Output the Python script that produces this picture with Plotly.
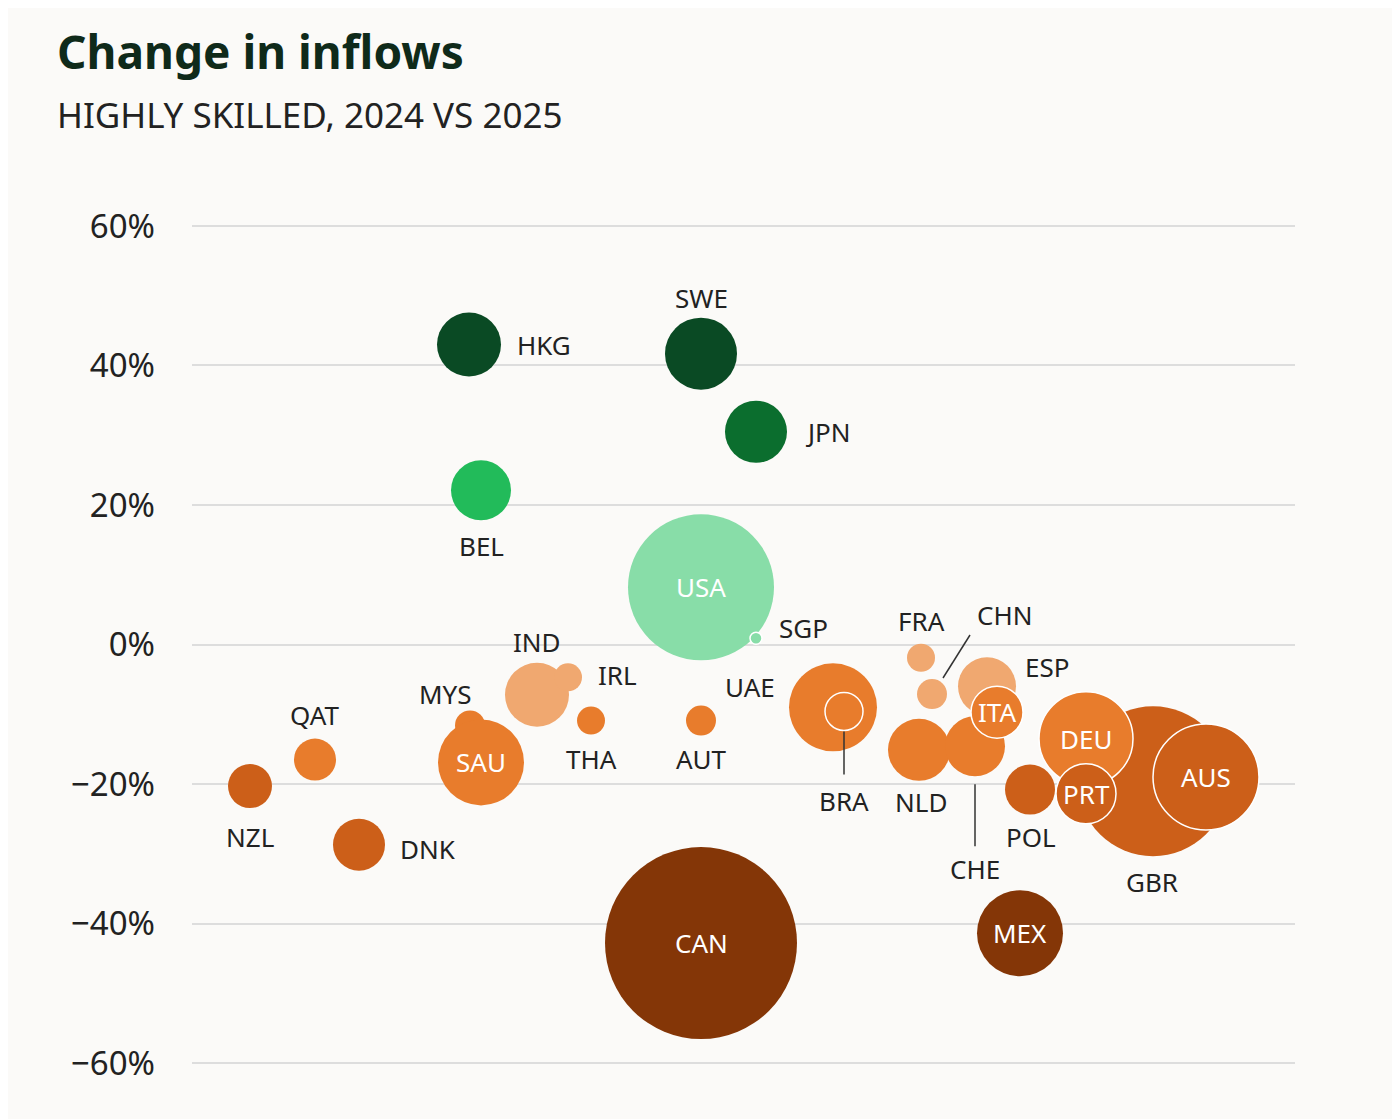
import plotly.graph_objects as go

countries = ["HKG","SWE","JPN","BEL","USA","SGP","IND","IRL","MYS","THA","AUT","QAT","NZL","DNK","SAU","CAN",
             "UAE","BRA","FRA","CHN","ESP","NLD","CHE","ITA","GBR","DEU","POL","PRT","AUS","MEX"]
# horizontal placement (arbitrary swarm position)
xpos = [277,509,564,289,509,564,345,376,278,399,509,123,58,167,289,509,
        641,652,729,740,795,727,783,805,961,894,838,894,1014,828]
change = [43.0,41.7,30.5,22.1,8.2,0.9,-7.2,-4.7,-11.6,-10.9,-10.9,-16.5,-20.3,-28.7,-16.9,-42.8,
          -9.0,-9.6,-1.9,-7.1,-6.0,-15.1,-14.6,-9.7,-19.6,-13.5,-20.8,-21.4,-19.0,-41.4]
bubble = [64,72,62,60,146,12,64,28,30,28,30,42,44,52,86,192,
          88,38,28,30,58,62,60,52,150,94,50,60,106,86]
colors = ["#0a4a24","#0a4a24","#0b6e2e","#22bb5a","#88dda8","#88dda8","#f0a870","#f0a870","#e87c2c","#e87c2c","#e87c2c",
          "#e87c2c","#cc5f19","#cc5f19","#e87c2c","#843607",
          "#e87c2c","#e87c2c","#f0a870","#f0a870","#f0a870","#e87c2c","#e87c2c","#e87c2c","#cc5f19","#e87c2c",
          "#cc5f19","#cc5f19","#cc5f19","#843607"]
outlined = {"BRA","ITA","DEU","PRT","AUS","SGP"}
inside = {"USA","SAU","CAN","ITA","DEU","PRT","AUS","MEX"}
# label offsets in px (dx, dy downwards)
offsets = {"HKG":(75,0),"SWE":(0,-56),"JPN":(72,0),"BEL":(0,56),"SGP":(47,-10),"IND":(0,-53),
           "IRL":(49,-2),"MYS":(-25,-31),"THA":(0,38),"AUT":(0,38),"UAE":(-83,-20),"QAT":(0,-45),
           "NZL":(0,51),"DNK":(69,4),"BRA":(0,90),"FRA":(0,-37),"CHN":(72,-79),"ESP":(60,-19),
           "NLD":(2,52),"CHE":(0,123),"POL":(1,47),"GBR":(-1,101)}

fig = go.Figure(go.Scatter(
    x=xpos, y=change, mode="markers", hoverinfo="skip",
    marker=dict(size=bubble, sizemode="diameter", color=colors, opacity=1,
                line=dict(color=["white" if c in outlined else "rgba(0,0,0,0)" for c in countries],
                          width=[1.5 if c in outlined else 0 for c in countries]))))

PXY = 6.975  # px per % point
for c, x, y in zip(countries, xpos, change):
    if c in inside:
        fig.add_annotation(x=x, y=y, text=c, showarrow=False,
                           font=dict(size=26, color="white", family="Noto Sans"))
    else:
        dx, dy = offsets[c]
        fig.add_annotation(x=x, y=y, text=c, showarrow=False, xshift=dx, yshift=-dy,
                           font=dict(size=26, color="#222", family="Noto Sans"))

def leader(c, d0, d1, dx0=0, dx1=0):
    i = countries.index(c)
    fig.add_shape(type="line", x0=xpos[i]+dx0, x1=xpos[i]+dx1,
                  y0=change[i]-d0/PXY, y1=change[i]-d1/PXY, line=dict(color="#333", width=1.5))
leader("BRA", 20, 63)
leader("CHE", 38, 100)
leader("CHN", -16, -59, 11, 38)

fig.update_layout(
    width=1400, height=1119, paper_bgcolor="#fbfaf8", plot_bgcolor="#fbfaf8",
    margin=dict(l=184, r=113, t=211, b=57), showlegend=False,
    font=dict(family="Noto Sans", color="#222"),
    xaxis=dict(range=[0, 1103], visible=False),
    yaxis=dict(range=[-61, 61], tickvals=[60,40,20,0,-20,-40,-60],
               ticktext=["60%","40%","20%","0%","−20%","−40%","−60%"],
               tickfont=dict(size=33, color="#222"), gridcolor="#dddddd", gridwidth=1.5,
               zeroline=False, ticks="", ticklabelstandoff=36),
)
fig.add_annotation(text="<b>Change in inflows</b>", xref="paper", yref="paper", x=-0.124, y=1.197,
                   xanchor="left", yanchor="middle", showarrow=False, font=dict(size=46, color="#0f2a1a"))
fig.add_annotation(text="HIGHLY SKILLED, 2024 VS 2025", xref="paper", yref="paper", x=-0.124, y=1.123,
                   xanchor="left", yanchor="middle", showarrow=False, font=dict(size=35, color="#222"))
fig.write_html("out.html")
